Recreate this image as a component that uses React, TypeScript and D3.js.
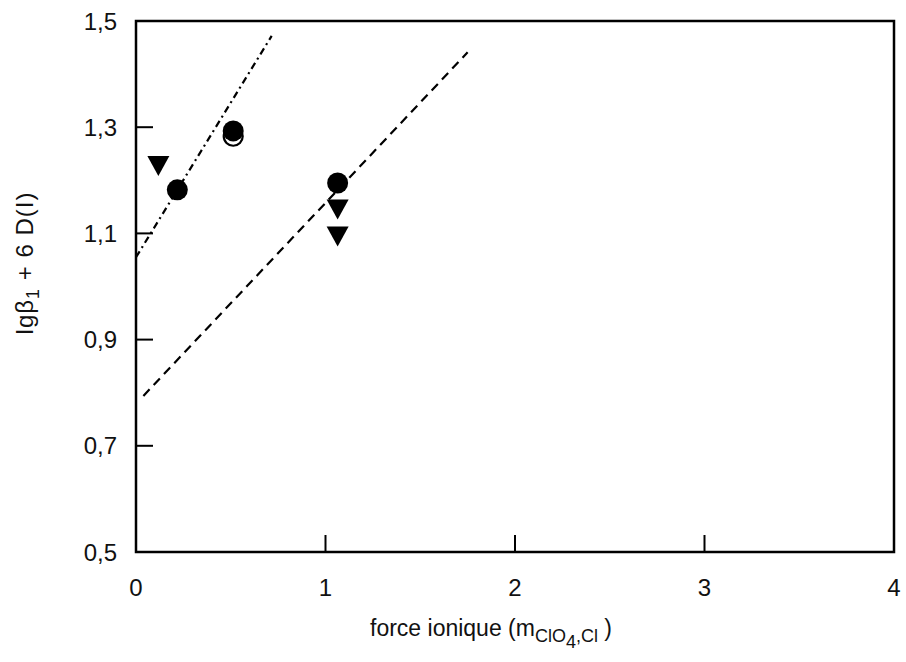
import React from "react";
import * as d3 from "d3";

const xTicks = [0, 1, 2, 3, 4];
const yTicks = [0.5, 0.7, 0.9, 1.1, 1.3, 1.5];
const yTickLabels = ["0,5", "0,7", "0,9", "1,1", "1,3", "1,5"];

// open circles
const openCircles = [{ x: 0.513, y: 1.283 }];
// filled circles
const filledCircles = [
  { x: 0.218, y: 1.182 },
  { x: 0.513, y: 1.293 },
  { x: 1.064, y: 1.195 },
];
// filled down triangles
const triangles = [
  { x: 0.118, y: 1.227 },
  { x: 1.064, y: 1.145 },
  { x: 1.064, y: 1.094 },
];
// fitted lines
const dashDotLine = [
  { x: 0.0, y: 1.055 },
  { x: 0.716, y: 1.472 },
];
const dashedLine = [
  { x: 0.039, y: 0.794 },
  { x: 1.75, y: 1.441 },
];

const W = 906;
const H = 662;
const L = 136;
const R = 894;
const T = 21;
const B = 552;

export default function App() {
  const x = d3.scaleLinear().domain([0, 4]).range([L, R]);
  const y = d3.scaleLinear().domain([0.5, 1.5]).range([B, T]);
  const line = d3
    .line<{ x: number; y: number }>()
    .x((d) => x(d.x))
    .y((d) => y(d.y));
  const font = "'Liberation Sans', Arial, Helvetica, sans-serif";
  const tri = (cx: number, cy: number) => {
    const w = 11, h = 10;
    return `M${cx - w},${cy - h}L${cx + w},${cy - h}L${cx},${cy + h}Z`;
  };
  return (
    <svg
      width={W}
      height={H}
      style={{ position: "absolute", left: 0, top: 0, background: "#fff" }}
      fontFamily={font}
    >
      <rect x={0} y={0} width={W} height={H} fill="#fff" />
      {/* fitted lines */}
      <path d={line(dashDotLine) || ""} fill="none" stroke="#000" strokeWidth={2.2} strokeDasharray="7,4,2,4" />
      <path d={line(dashedLine) || ""} fill="none" stroke="#000" strokeWidth={2.2} strokeDasharray="9,6" />
      {/* frame */}
      <rect x={L} y={T} width={R - L} height={B - T} fill="none" stroke="#000" strokeWidth={2.5} />
      {/* y ticks */}
      {yTicks.map((t, i) => (
        <g key={"y" + i}>
          {t > 0.5 && t < 1.5 && (
            <line x1={L} x2={L + 17} y1={y(t)} y2={y(t)} stroke="#000" strokeWidth={2} />
          )}
          <text x={117} y={y(t)} dy="0.36em" textAnchor="end" fontSize={24} fill="#111">
            {yTickLabels[i]}
          </text>
        </g>
      ))}
      {/* x ticks */}
      {xTicks.map((t, i) => (
        <g key={"x" + i}>
          {t > 0 && t < 4 && (
            <line x1={x(t)} x2={x(t)} y1={B} y2={B - 17} stroke="#000" strokeWidth={2} />
          )}
          <text x={x(t)} y={587} dy="0.36em" textAnchor="middle" fontSize={24} fill="#111">
            {t}
          </text>
        </g>
      ))}
      {/* markers */}
      {openCircles.map((d, i) => (
        <circle key={"o" + i} cx={x(d.x)} cy={y(d.y)} r={9.5} fill="#fff" stroke="#000" strokeWidth={2.2} />
      ))}
      {filledCircles.map((d, i) => (
        <circle key={"f" + i} cx={x(d.x)} cy={y(d.y)} r={10.5} fill="#000" />
      ))}
      {triangles.map((d, i) => (
        <path key={"t" + i} d={tri(x(d.x), y(d.y))} fill="#000" />
      ))}
      {/* x label */}
      <text x={370} y={636} fontSize={23} fill="#111">
        force ionique (m
        <tspan fontSize={18} dy={6}>ClO</tspan>
        <tspan fontSize={18} dy={6}>4</tspan>
        <tspan fontSize={18} dy={-6}>,Cl</tspan>
        <tspan dy={-6}> )</tspan>
      </text>
      {/* y label */}
      <text
        transform={`translate(33,263) rotate(-90)`}
        textAnchor="middle"
        fontSize={24}
        letterSpacing={1}
        fill="#111"
      >
        lgβ<tspan fontSize={18} dy={6}>1</tspan>
        <tspan dy={-6}> + 6 D(I)</tspan>
      </text>
    </svg>
  );
}
